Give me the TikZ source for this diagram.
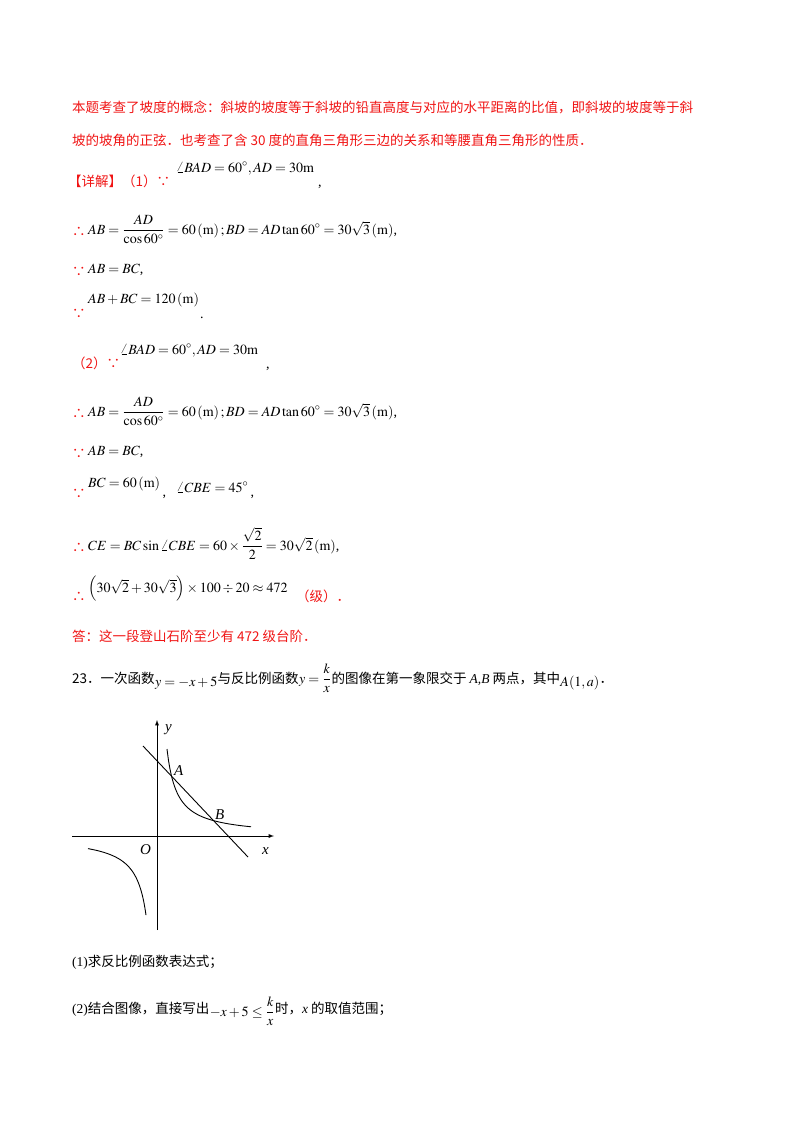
\documentclass[tikz,border=0pt]{standalone}
\usepackage{amsmath}
\usepackage{mathptmx}
\usepackage{fontspec}
\setmainfont{Liberation Serif}
\newfontfamily\cjk{Noto Sans CJK SC}
\definecolor{ansred}{RGB}{240,20,20}
\newcommand{\fs}{\fontsize{13.5bp}{16bp}\selectfont}
\newcommand{\fm}{\fontsize{14bp}{16bp}\selectfont}
\newcommand{\li}[1]{{\rmfamily\itshape #1}}
\tikzset{
 t/.style={anchor=base west,inner sep=0pt,font=\cjk\fs},
 r/.style={t,text=ansred},
 m/.style={anchor=base west,inner sep=0pt,font=\fm},
 ax/.style={line width=0.9pt,-latex},
 cv/.style={line width=0.9pt}
}
\begin{document}
\begin{tikzpicture}[x=1bp,y=-1bp]
\useasboundingbox (0,0) rectangle (800,1132);
\node[r] (l1) at (72,112) {本题考查了坡度的概念：斜坡的坡度等于斜坡的铅直高度与对应的水平距离的比值，即斜坡的坡度等于斜};
\node[r] (l2) at (72,145) {坡的坡角的正弦．也考查了含 30 度的直角三角形三边的关系和等腰直角三角形的性质．};
\node[r] (l3) at (68,186) {【详解】（1）∵};
\node[m] (l3m) at (176,172) {$\angle BAD=60^\circ, AD=30\mathrm{m}$};
\node[m] (l3c) at (318,186) {,};
\node[r] (s4) at (72,236) {∴};
\node[m] (l4) at (88,234) {$AB=\dfrac{AD}{\cos 60^\circ}=60\left(\mathrm{m}\right);BD=AD\tan 60^\circ=30\sqrt{3}\left(\mathrm{m}\right)$,};
\node[r] (s5) at (72,276) {∵};
\node[m] (l5) at (88,273) {$AB=BC$,};
\node[r] (s6) at (72,318) {∵};
\node[m] (l6) at (88,303) {$AB+BC=120\left(\mathrm{m}\right)$};
\node[m] (l6c) at (200,318) {.};
\node[r] (l7) at (72,368) {（2）∵};
\node[m] (l7m) at (120,354) {$\angle BAD=60^\circ, AD=30\mathrm{m}$};
\node[m] (l7c) at (266,368) {,};
\node[r] (s8) at (72,418) {∴};
\node[m] (l8) at (88,416) {$AB=\dfrac{AD}{\cos 60^\circ}=60\left(\mathrm{m}\right);BD=AD\tan 60^\circ=30\sqrt{3}\left(\mathrm{m}\right)$,};
\node[r] (s9) at (72,458) {∵};
\node[m] (l9) at (88,455) {$AB=BC$,};
\node[r] (s10) at (72,498) {∵};
\node[m] (l10) at (88,487) {$BC=60\left(\mathrm{m}\right)$};
\node[m] (l10b) at (l10.base east) [xshift=2bp,yshift=-9bp] {,};
\node[m] (l10c) at (l10b.base east) [xshift=10bp,yshift=4bp] {$\angle CBE=45^\circ$};
\node[m] (l10d) at (l10c.base east) [xshift=2bp,yshift=-4bp] {,};
\node[r] (s11) at (72,552) {∴};
\node[m] (l11) at (88,550) {$CE=BC\sin\angle CBE=60\times\dfrac{\sqrt{2}}{2}=30\sqrt{2}\left(\mathrm{m}\right)$,};
\node[r] (s12) at (72,601) {∴};
\node[m] (l12) at (88,592) {$\left(30\sqrt{2}+30\sqrt{3}\right)\times 100\div 20\approx 472$};
\node[r] (l12b) at (l12.base east) [xshift=8bp,yshift=-9bp] {（级）．};
\node[r] (l13) at (72,641) {答：这一段登山石阶至少有 472 级台阶．};
\node[t] (l14) at (72,683) {23．一次函数};
\node[m] (l14a) at (l14.base east) [yshift=-3bp] {$y=-x+5$};
\node[t] (l14b) at (l14a.base east) [yshift=3bp] {与反比例函数};
\node[m] (l14c) at (l14b.base east) {$y=\dfrac{k}{x}$};
\node[t] (l14d) at (l14c.base east) {的图像在第一象限交于 \li{A,B} 两点，其中 };
\node[m] (l14e) at (l14d.base east) [yshift=-3bp] {$A(1,a)$};
\node[t] (l14f) at (l14e.base east) [yshift=3bp] {．};
% graph
\coordinate (O) at (157,836);
\coordinate (xs) at (72,836); \coordinate (xe) at (274,836);
\coordinate (ys) at (157,930); \coordinate (ye) at (157,720);
\draw[ax] (xs) -- (xe);
\draw[ax] (ys) -- (ye);
\coordinate (ls) at (143,746); \coordinate (le) at (248,857);
\draw[cv] (ls) -- (le);
\draw[cv,domain=10:94,samples=60,smooth,shift={(157,836)}] plot (\x,{-870/\x});
\draw[cv,domain=-69:-11,samples=60,smooth,shift={(157,836)}] plot (\x,{-870/\x});
\node[m,font=\itshape\fontsize{15bp}{16bp}\selectfont] (ny) at (165,731) {y};
\node[m,font=\itshape\fontsize{15bp}{16bp}\selectfont] (nA) at (174,775) {A};
\node[m,font=\itshape\fontsize{15bp}{16bp}\selectfont] (nB) at (215,819) {B};
\node[m,font=\itshape\fontsize{15bp}{16bp}\selectfont] (nO) at (140,854) {O};
\node[m,font=\itshape\fontsize{15bp}{16bp}\selectfont] (nx) at (262,854) {x};
\node[t] (q1) at (72,966) {{\rmfamily(1)}求反比例函数表达式；};
\node[t] (q2) at (72,1013) {{\rmfamily(2)}结合图像，直接写出};
\node[m] (q2m) at (q2.base east) [yshift=-3bp] {$-x+5\le\dfrac{k}{x}$};
\node[t] (q2b) at (q2m.base east) [yshift=3bp] {时，\li{x} 的取值范围；};
\end{tikzpicture}
\end{document}
